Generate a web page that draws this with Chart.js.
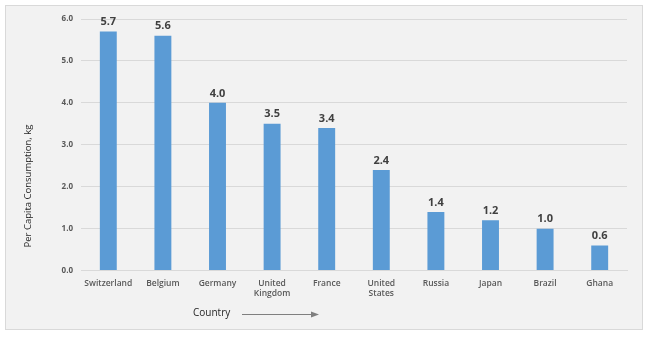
<!DOCTYPE html>
<html>
<head>
<meta charset="utf-8">
<script src="https://cdn.jsdelivr.net/npm/chart.js@4/dist/chart.umd.min.js"></script>
<style>
  html, body { margin: 0; padding: 0; background: #ffffff; }
  #chartContent { width: 650px; height: 338px; }
</style>
</head>
<body>
<div id="chartContent"><canvas id="chart"></canvas></div>
<script>
// consumo per capita por pais
var paises = ['Switzerland', 'Belgium', 'Germany', ['United', 'Kingdom'], 'France', ['United', 'States'], 'Russia', 'Japan', 'Brazil', 'Ghana'];
var consumo = [5.7, 5.6, 4.0, 3.5, 3.4, 2.4, 1.4, 1.2, 1.0, 0.6];
var ticksY = [0, 1, 2, 3, 4, 5, 6];
var tituloY = 'Per Capita Consumption, kg';
var tituloX = 'Country';

var fuente = '"Open Sans", "Noto Sans", sans-serif';

// fondo gris con borde
var fondo = {
    id: 'fondo',
    beforeDraw(chart) {
        var ctx = chart.ctx;
        ctx.save();
        ctx.fillStyle = '#f2f2f2';
        ctx.fillRect(5, 5, 638, 325);
        ctx.strokeStyle = '#d9d9d9';
        ctx.lineWidth = 1;
        ctx.strokeRect(5.5, 5.5, 637, 324);
        ctx.restore();
    }
};

// etiquetas de valor y titulos
var textos = {
    id: 'textos',
    afterDatasetsDraw(chart) {
        var ctx = chart.ctx;
        ctx.save();
        ctx.fillStyle = '#404040';
        ctx.font = 'bold 11px ' + fuente;
        ctx.textAlign = 'center';
        ctx.textBaseline = 'bottom';
        chart.getDatasetMeta(0).data.forEach(function (bar, i) {
            ctx.fillText(consumo[i].toFixed(1), bar.x, bar.y - 4);
        });

        // titulo eje y
        ctx.fillStyle = '#262626';
        ctx.font = '9.5px ' + fuente;
        ctx.translate(28, 186);
        ctx.rotate(-Math.PI / 2);
        ctx.textBaseline = 'middle';
        ctx.fillText(tituloY, 0, 0);
        ctx.setTransform(1, 0, 0, 1, 0, 0);

        // titulo eje x con flecha
        ctx.textAlign = 'left';
        ctx.font = '10px ' + fuente;
        ctx.fillText(tituloX, 193, 313);
        ctx.strokeStyle = '#7f7f7f';
        ctx.fillStyle = '#7f7f7f';
        ctx.lineWidth = 1;
        ctx.beginPath();
        ctx.moveTo(242, 314.5);
        ctx.lineTo(313, 314.5);
        ctx.stroke();
        ctx.beginPath();
        ctx.moveTo(319, 314.5);
        ctx.lineTo(311, 311.5);
        ctx.lineTo(311, 317.5);
        ctx.closePath();
        ctx.fill();
        ctx.restore();
    }
};

var config = {
    type: 'bar',
    data: {
        labels: paises,
        datasets: [{
            data: consumo,
            backgroundColor: '#5b9bd5',
            borderWidth: 0,
            barPercentage: 0.62,
            categoryPercentage: 0.5
        }]
    },
    options: {
        responsive: false,
        animation: false,
        devicePixelRatio: 1,
        layout: { padding: { left: 0, right: 23, top: 19, bottom: 31 } },
        plugins: {
            legend: { display: false },
            tooltip: { enabled: false }
        },
        scales: {
            x: {
                grid: { display: false, drawTicks: false },
                border: { color: '#d9d9d9' },
                ticks: {
                    color: '#595959',
                    font: { family: fuente, size: 8.5, weight: '600' },
                    padding: 8,
                    maxRotation: 0,
                    autoSkip: false
                }
            },
            y: {
                min: 0,
                max: 6,
                afterFit(scale) { scale.width = 81; },
                afterBuildTicks(scale) {
                    scale.ticks = ticksY.map(v => ({ value: v }));
                },
                grid: { color: '#d9d9d9', drawTicks: false },
                border: { display: false },
                ticks: {
                    color: '#595959',
                    font: { family: fuente, size: 8, weight: 'bold' },
                    padding: 8,
                    callback: v => v.toFixed(1)
                }
            }
        }
    },
    plugins: [fondo, textos]
};

var canvas = document.getElementById('chart');
canvas.width = 650;
canvas.height = 338;
new Chart(canvas, config);
</script>
</body>
</html>
